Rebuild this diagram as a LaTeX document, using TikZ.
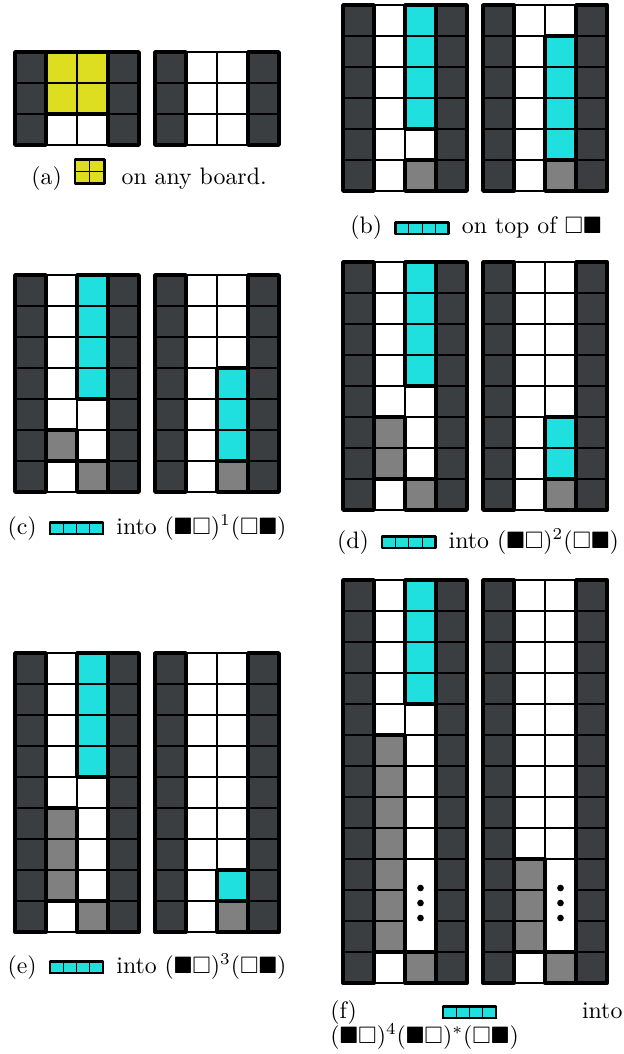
\documentclass[tikz,border=0pt]{standalone}
\usepackage{amssymb}
\usepackage{xcolor}
\usepackage{tikz}
\definecolor{WallGray}{RGB}{59,62,65}
\definecolor{PieceCyan}{RGB}{32,223,223}
\definecolor{PieceYellow}{RGB}{222,222,32}
\definecolor{FixedGray}{RGB}{128,128,128}

% board of 4 columns, #1 rows, #2 = pieces drawn before the walls
\newcommand{\board}[2]{%
  \fill[white] (0,0) rectangle (124,{31*#1});
  \fill[WallGray] (0,0) rectangle (31,{31*#1}) (93,0) rectangle (124,{31*#1});
  \foreach \c in {0,...,4}{\draw[gridline] ({31*\c},0) -- ({31*\c},{31*#1});}
  \foreach \r in {0,...,#1}{\draw[gridline] (0,{31*\r}) -- (124,{31*\r});}
  #2
  \draw[bold] (0,0) rectangle (31,{31*#1}) (93,0) rectangle (124,{31*#1});
}
% piece: columns #1..#2, rows #3..#4, colour #5
\newcommand{\piece}[5]{%
  \foreach \c in {#1,...,#2}{
    \foreach \r in {#3,...,#4}{
      \filldraw[fill=#5, gridline] ({31*\c},{31*\r}) rectangle ++(31,31);}}
  \draw[bold] ({31*#1},{31*#3}) rectangle ({31*#2+31},{31*#4+31});
}
% three rows left out, column #1 from row #2
\newcommand{\gap}[2]{%
  \filldraw[fill=white, gridline] ({31*#1},{31*#2}) rectangle ++(31,93);
  \foreach \k in {0,1,2}{\fill ({31*#1+15.5},{31*#2+29+15*\k}) circle (1.4pt);}
}
\newcommand{\tetI}{\tikz[x=5.6pt,y=4.9pt,baseline=0pt]{%
  \foreach \i in {0,...,3}{\filldraw[fill=PieceCyan, draw=black, line width=0.4pt] (\i,0) rectangle ++(1,1);}
  \draw[line width=1.1pt, line join=round] (0,0) rectangle (4,1);}}
\newcommand{\tetO}{\tikz[x=6.2pt,y=5pt,baseline=-0.6pt]{%
  \foreach \i in {0,1}{\foreach \j in {0,1}{\filldraw[fill=PieceYellow, draw=black, line width=0.4pt] (\i,\j) rectangle ++(1,1);}}
  \draw[line width=1.1pt, line join=round] (0,0) rectangle (2,2);}}

\begin{document}
\begin{tikzpicture}[x=0.42pt, y=-0.42pt,
    gridline/.style={draw=black, line width=0.45pt},
    bold/.style={draw=black, line width=1.6pt, line join=round},
    caption/.style={anchor=base, inner sep=0pt}]
  \useasboundingbox (0,0) rectangle (623,1054);

  % (a)
  \begin{scope}[shift={(15,52)}]
    \board{3}{\piece{1}{2}{0}{1}{PieceYellow}}
  \end{scope}
  \begin{scope}[shift={(155,52)}]
    \board{3}{}
  \end{scope}
  \node[caption] (capa) at (149,185) {(a)\enspace\tetO\enspace\,on any board.};

  % (b)
  \begin{scope}[shift={(343,5)}]
    \board{6}{\piece{2}{2}{0}{3}{PieceCyan}\piece{2}{2}{5}{5}{FixedGray}}
  \end{scope}
  \begin{scope}[shift={(483,5)}]
    \board{6}{\piece{2}{2}{1}{4}{PieceCyan}\piece{2}{2}{5}{5}{FixedGray}}
  \end{scope}
  \node[caption] (capb) at (476,234) {(b)\enspace\tetI\enspace on top of $\square\blacksquare$};

  % (c)
  \begin{scope}[shift={(15,275)}]
    \board{7}{\piece{2}{2}{0}{3}{PieceCyan}\piece{1}{1}{5}{5}{FixedGray}
              \piece{2}{2}{6}{6}{FixedGray}}
  \end{scope}
  \begin{scope}[shift={(155,275)}]
    \board{7}{\piece{2}{2}{3}{5}{PieceCyan}\piece{2}{2}{6}{6}{FixedGray}}
  \end{scope}
  \node[caption] (capc) at (147,534)
    {(c)\enspace\tetI\enspace into $(\blacksquare\square)^1(\square\blacksquare)$};

  % (d)
  \begin{scope}[shift={(343,262)}]
    \board{8}{\piece{2}{2}{0}{3}{PieceCyan}\piece{1}{1}{5}{6}{FixedGray}
              \piece{2}{2}{7}{7}{FixedGray}}
  \end{scope}
  \begin{scope}[shift={(483,262)}]
    \board{8}{\piece{2}{2}{5}{6}{PieceCyan}\piece{2}{2}{7}{7}{FixedGray}}
  \end{scope}
  \node[caption] (capd) at (478,548)
    {(d)\enspace\tetI\enspace into $(\blacksquare\square)^2(\square\blacksquare)$};

  % (e)
  \begin{scope}[shift={(15,653)}]
    \board{9}{\piece{2}{2}{0}{3}{PieceCyan}\piece{1}{1}{5}{7}{FixedGray}
              \piece{2}{2}{8}{8}{FixedGray}}
  \end{scope}
  \begin{scope}[shift={(155,653)}]
    \board{9}{\piece{2}{2}{7}{7}{PieceCyan}\piece{2}{2}{8}{8}{FixedGray}}
  \end{scope}
  \node[caption] (cape) at (147,973)
    {(e)\enspace\tetI\enspace into $(\blacksquare\square)^3(\square\blacksquare)$};

  % (f)
  \begin{scope}[shift={(343,580)}]
    \board{13}{\gap{2}{9}\piece{2}{2}{0}{3}{PieceCyan}\piece{1}{1}{5}{11}{FixedGray}
               \piece{2}{2}{12}{12}{FixedGray}}
  \end{scope}
  \begin{scope}[shift={(483,580)}]
    \board{13}{\gap{2}{9}\piece{1}{1}{9}{11}{FixedGray}\piece{2}{2}{12}{12}{FixedGray}}
  \end{scope}
  \node[caption, anchor=base west, text width=122.6pt, align=left] (capf) at (330,1018)
    {(f)\hfill\tetI\hfill into};
  \node[caption, anchor=base west] (capf2) at (330,1043)
    {$(\blacksquare\square)^4(\blacksquare\square)^*(\square\blacksquare)$};
\end{tikzpicture}
\end{document}
